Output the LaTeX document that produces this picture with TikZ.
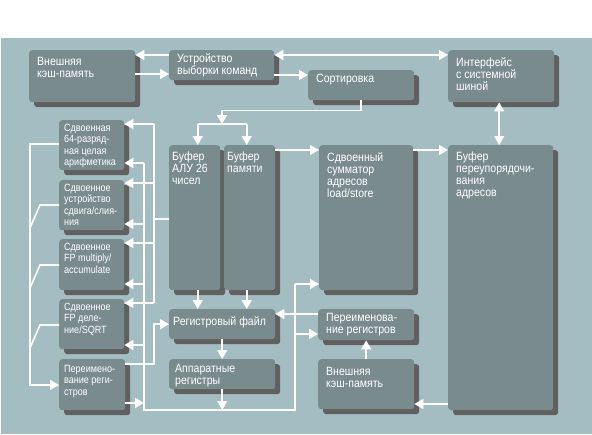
\documentclass[tikz,border=0pt]{standalone}
\usepackage{fontspec}
\setmainfont{Liberation Sans}[FakeStretch=0.88]
\newfontfamily\uzk{Liberation Sans}[FakeStretch=0.86]
\usetikzlibrary{arrows.meta, shadows}
\definecolor{fonc}{RGB}{164,189,194}
\definecolor{blkc}{RGB}{122,139,141}
\definecolor{tenc}{RGB}{96,96,96}
\tikzset{
  blk/.style    = {fill=blkc, rounded corners=3pt, anchor=north west, inner sep=0pt,
                   drop shadow={shadow xshift=5pt, shadow yshift=-5pt, fill=tenc, opacity=1}},
  tbase/.style  = {anchor=north west, inner sep=0pt, align=left, text=white},
  txt/.style    = {tbase, font=\fontsize{12}{12}\selectfont, xshift=8pt, yshift=-5pt},
  stxt/.style   = {tbase, font=\uzk\fontsize{10.5}{11.3}\selectfont, xshift=5pt, yshift=-4pt},
  wire/.style   = {draw=white, line width=1.6pt},
  arrow/.style  = {wire, -{Triangle[length=9pt, width=10pt]}},
  darrow/.style = {wire, {Triangle[length=9pt, width=10pt]}-{Triangle[length=9pt, width=10pt]}},
}
\begin{document}
\begin{tikzpicture}[x=1pt, y=-1pt]
  \useasboundingbox (0,0) rectangle (592,434);
  \fill[fonc] (1,38) rectangle (592,434);

  \node[blk, minimum width=106, minimum height=52,
    label={[txt, yshift=-2pt]north west:Внешняя\\кэш-память}] (kesh) at (29,50) {};
  \node[blk, minimum width=105, minimum height=30,
    label={[txt, yshift=2pt]north west:Устройство\\выборки команд}] (vyborka) at (169,50) {};
  \node[blk, minimum width=106, minimum height=30,
    label={[txt, yshift=1pt]north west:Сортировка}] (sort) at (308,70) {};
  \node[blk, minimum width=106, minimum height=52,
    label={[txt, yshift=-2pt]north west:Интерфейс\\с системной\\шиной}] (iface) at (448,50) {};
  \node[blk, minimum width=105, minimum height=265,
    label={[txt, yshift=-2pt]north west:Буфер\\переупорядочи-\\вания\\адресов}] (bufper) at (448,145) {};
  \node[blk, minimum width=94, minimum height=145,
    label={[txt, yshift=-2pt]north west:Сдвоенный\\сумматор\\адресов\\load/store}] (summ) at (319,145) {};
  \node[blk, minimum width=96, minimum height=31,
    label={[txt, yshift=1pt]north west:Переименова-\\ние регистров}] (pereim2) at (318,309) {};
  \node[blk, minimum width=96, minimum height=50,
    label={[txt, yshift=-3pt]north west:Внешняя\\кэш-память}] (kesh2) at (318,359) {};
  \node[blk, minimum width=51, minimum height=145,
    label={[txt, xshift=-5pt, yshift=-2pt]north west:Буфер\\АЛУ 26\\чисел}] (bufalu) at (169,145) {};
  \node[blk, minimum width=51, minimum height=145,
    label={[txt, xshift=-5pt, yshift=-2pt]north west:Буфер\\памяти}] (bufmem) at (224,145) {};
  \node[blk, minimum width=106, minimum height=30,
    label={[txt, xshift=-4pt, yshift=-2pt]north west:Регистровый файл}] (regfile) at (169,309) {};
  \node[blk, minimum width=106, minimum height=30,
    label={[txt, xshift=-2pt]north west:Аппаратные\\регистры}] (appreg) at (169,359) {};

  \node[blk, minimum width=65, minimum height=50,
    label={[stxt]north west:Сдвоенная\\64-разряд-\\ная целая\\арифметика}] (alu64) at (59,120) {};
  \node[blk, minimum width=65, minimum height=50,
    label={[stxt]north west:Сдвоенное\\устройство\\сдвига/слия-\\ния}] (sdvig) at (59,180) {};
  \node[blk, minimum width=65, minimum height=51,
    label={[stxt]north west:Сдвоенное\\FP multiply/\\accumulate}] (fpmul) at (59,239) {};
  \node[blk, minimum width=65, minimum height=50,
    label={[stxt]north west:Сдвоенное\\FP деле-\\ние/SQRT}] (fpdiv) at (59,299) {};
  \node[blk, minimum width=66, minimum height=51,
    label={[stxt, yshift=-2pt]north west:Переимено-\\вание реги-\\стров}] (pereim) at (59,359) {};

  \coordinate (shinaA) at (154,0);
  \coordinate (shinaB) at (144,0);
  \coordinate (shinaC) at (295,0);
  \coordinate (shinaL) at (30,0);
  \coordinate (razv) at (222,124);

  \draw[arrow] (vyborka.west |- 0,55) -- (kesh.east |- 0,55);
  \draw[arrow] (kesh.east |- 0,74) -- (vyborka.west |- 0,74);
  \draw[darrow] (vyborka.east |- 0,55) -- (iface.west |- 0,55);
  \draw[arrow] (vyborka.east |- 0,75) -- (sort.west |- 0,75);
  \draw[arrow] (sort.south) -- ++(0,10) -| (razv);
  \draw[wire] ([xshift=3pt]bufalu.north |- razv) -- ([xshift=-3pt]bufmem.north |- razv);
  \draw[arrow] ([xshift=3pt]bufalu.north |- razv) -- ([xshift=3pt]bufalu.north);
  \draw[arrow] ([xshift=-3pt]bufmem.north |- razv) -- ([xshift=-3pt]bufmem.north);
  \draw[arrow] (bufmem.east |- 0,150) -- (summ.west |- 0,150);
  \draw[arrow] (summ.east |- 0,150) -- (bufper.west |- 0,150);
  \draw[darrow] ([xshift=-2pt]iface.south) -- ([xshift=-2pt]iface.south |- bufper.north);

  \draw[wire] (bufalu.west |- 0,219) -- (shinaA |- 0,219);
  \draw[wire] (shinaA |- 0,124) -- (shinaA |- 0,303);
  \foreach \b/\y in {alu64/124, sdvig/183, fpmul/243, fpdiv/303}
    \draw[arrow] (shinaA |- 0,\y) -- (\b.east |- 0,\y);

  \draw[wire] (shinaB |- 0,163) |- (shinaC |- 0,410) -- (shinaC |- 0,284);
  \foreach \b/\y in {alu64/163, sdvig/224, fpmul/284, fpdiv/345}
    \draw[arrow] (shinaB |- 0,\y) -- (\b.east |- 0,\y);
  \draw[arrow] (pereim.east |- 0,403) -- (shinaB |- 0,403);
  \draw[arrow] (appreg.south) -- (appreg.south |- 0,410);
  \draw[arrow] (shinaC |- 0,284) -- (summ.west |- 0,284);
  \draw[arrow] (shinaC |- 0,334) -- (pereim2.west |- 0,334);

  \draw[arrow] (pereim.east |- 0,364) -| ([xshift=-15pt]regfile.west) -- (regfile.west);
  \draw[arrow] ([xshift=3pt]bufalu.south) -- ([xshift=3pt]bufalu.south |- regfile.north);
  \draw[arrow] ([xshift=-3pt]bufmem.south) -- ([xshift=-3pt]bufmem.south |- regfile.north);
  \draw[arrow] (regfile.south) -- (appreg.north);
  \draw[arrow] (pereim2.west |- 0,314) -- (regfile.east |- 0,314);
  \draw[arrow] (bufper.west |- 0,404) -- (kesh2.east |- 0,404);
  \draw[arrow] (kesh2.north) -- (pereim2.south);

  \draw[arrow] (alu64.west |- 0,144) -| (shinaL |- 0,385) -- (pereim.west |- 0,385);
  \foreach \b/\y in {sdvig/205, fpmul/265, fpdiv/325}
    \draw[wire] (\b.west |- 0,\y) -- ++(-19,0) -- ++(-10,23);
\end{tikzpicture}
\end{document}
